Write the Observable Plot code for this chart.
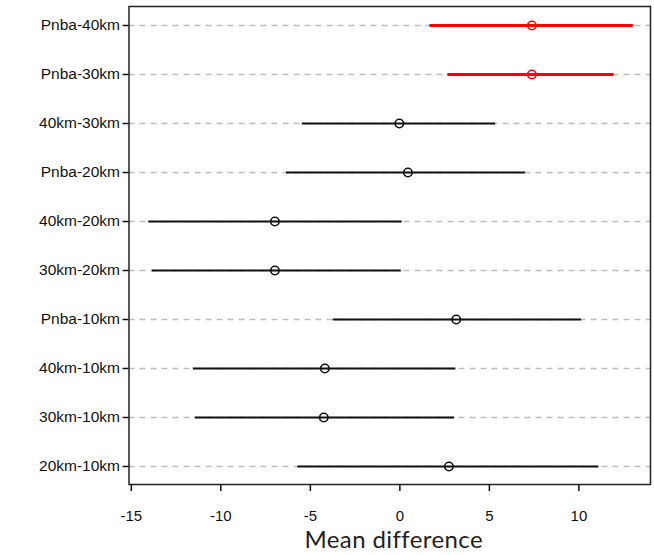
<!DOCTYPE html>
<html>
<head>
<meta charset="utf-8">
<script src="https://cdn.jsdelivr.net/npm/d3@7"></script>
<script src="https://cdn.jsdelivr.net/npm/@observablehq/plot@0.6"></script>
<style>
  html, body { margin: 0; padding: 0; background: white; }
  .xtitle text { letter-spacing: 0.4px; }
</style>
</head>
<body>
<div id="chart"></div>
<script>
const comparisons = ["Pnba-40km","Pnba-30km","40km-30km","Pnba-20km","40km-20km","30km-20km","Pnba-10km","40km-10km","30km-10km","20km-10km"];
const diff  = [7.37, 7.37, -0.03, 0.45, -6.98, -6.98, 3.15, -4.19, -4.25, 2.74];
const lower = [1.68, 2.68, -5.45, -6.33, -14.03, -13.83, -3.72, -11.54, -11.43, -5.70];
const upper = [13.04, 11.96, 5.35, 7.02, 0.13, 0.08, 10.15, 3.13, 3.06, 11.12];
const xTicks = [-15, -10, -5, 0, 5, 10];
const xTitle = ["Mean difference"];

const rows = comparisons.map((c, i) => ({
  comp: c, diff: diff[i], lower: lower[i], upper: upper[i],
  sig: lower[i] > 0 || upper[i] < 0
}));
const color = d => d.sig ? "#ff0000" : "#111111";

const chart = Plot.plot({
  width: 654,
  height: 555,
  marginLeft: 128.5,
  marginRight: 4,
  marginTop: 6,
  marginBottom: 71,
  style: {fontFamily: "'Liberation Sans', Arial, sans-serif", fontSize: "15px", color: "#111", background: "white"},
  x: {domain: [-15.13, 14.0]},
  y: {domain: comparisons, type: "point", padding: 0.36},
  marks: [
    Plot.gridY({stroke: "#bdbdbd", strokeOpacity: 1, strokeWidth: 1.3, strokeDasharray: "6,5"}),
    Plot.ruleY(rows, {y: "comp", x1: "lower", x2: "upper", stroke: color, strokeWidth: d => d.sig ? 3 : 2}),
    Plot.dot(rows, {y: "comp", x: "diff", r: 4.2, stroke: color, strokeWidth: 1.6, fill: "none"}),
    Plot.frame({stroke: "#222", strokeWidth: 1.5}),
    Plot.axisX({ticks: xTicks, tickFormat: d => String(d), tickSize: 7, tickPadding: 19, label: null, fontSize: 15, strokeWidth: 1.5}),
    Plot.axisY({tickSize: 6, tickPadding: 3, label: null, fontSize: 15.5, strokeWidth: 1.5}),
    Plot.text(xTitle, {text: d => d, frameAnchor: "bottom", lineAnchor: "middle", dy: 56, dx: 4, fontSize: 24, fontFamily: "Lato, 'Open Sans', sans-serif", fill: "#222", className: "xtitle"})
  ]
});
document.getElementById("chart").appendChild(chart);
</script>
</body>
</html>
